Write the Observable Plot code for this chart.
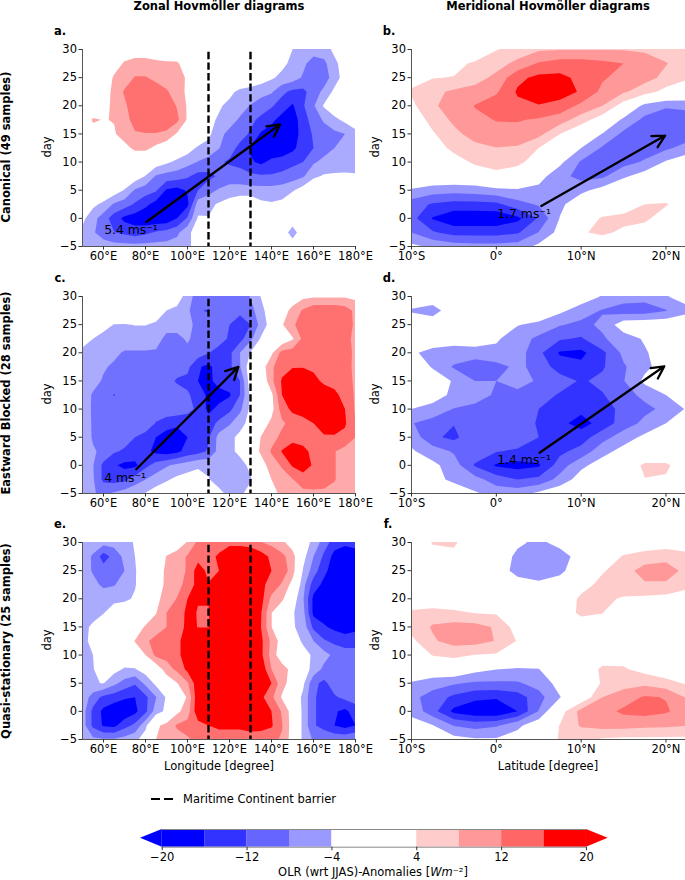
<!DOCTYPE html>
<html>
<head>
<meta charset="utf-8">
<script src="https://cdn.jsdelivr.net/npm/d3@7"></script>
<script src="https://cdn.jsdelivr.net/npm/@observablehq/plot@0.6"></script>
<style>
html,body{margin:0;padding:0;background:#fff}
#page{position:relative;width:685px;height:880px;overflow:hidden;font-family:"DejaVu Sans",sans-serif;color:#000}
#page svg{position:absolute}
.t{position:absolute;white-space:nowrap;line-height:1;font-size:11.6px}
.b{font-weight:bold}
.rot{transform:translate(-50%,-50%) rotate(-90deg)}
.ctr{transform:translate(-50%,-50%)}
</style>
</head>
<body>
<div id="page"></div>
<script>
// Grid axes
const lons = d3.range(50, 181, 5);
const lats = d3.range(-10, 23, 2.5);
const days = [30,27.5,25,22.5,20,17.5,15,12.5,10,7.5,5,2.5,0,-2.5,-5];

// OLR anomalies (rows = days, columns = lons / lats)
const panelA = [
[0,0,0,0,1.5,2.5,2.5,2.5,1.5,1,0,0,0,0,0,0,0,0,0,-1,-4,-6,-6,-6,-3,0,0],
[0,0,0,2,4.5,5,5,4.5,4.5,4.5,2,0,0,0,0,0,0,0,-1,-3,-5,-7,-10,-9,-5,-2,0],
[0,0,1,4.5,6,8.3,8.3,7,6,5.5,3.5,0,0,0,0,0,-1,-2,-3.5,-5,-6,-8.5,-10,-10,-6,-2,0],
[0,0,2,5,8.5,10,10,10,8.5,6,3.2,0,0,0,-3,-5,-5.5,-6.5,-7.5,-11,-13,-13,-10,-7,-3,0,0],
[0,0,2.5,5,7.2,10.5,11,11,10.5,7.7,3.5,0,0,-3.5,-5,-6.5,-8.2,-10,-11.5,-14,-16.5,-12.5,-8.5,-3.5,-1,0,0],
[0,4.6,3.8,4.2,6.5,9.5,11,11,11,9,3.5,0,-3,-4.5,-6.5,-8.5,-11,-13,-15,-17.5,-18,-14,-10,-7.5,-5,-3,-2],
[0,2,2,3.5,6,7.6,7.8,7.8,7,3.5,1,0,-3,-7,-9,-10.5,-12.5,-16.5,-18,-18,-18,-14.5,-11.5,-10,-9,-8,-5],
[0,0,0,2,2.5,5,5,3,1,0,-2,-4.7,-5.5,-7.8,-10.5,-13,-16.5,-18,-19,-19,-17,-14,-12,-9.5,-8,-6.5,-5.5],
[0,0,0,0,0,0,0,-1.5,-3.2,-5,-6.5,-8.2,-9.5,-11.5,-12.5,-13.5,-15.5,-16.8,-15,-14,-13,-12,-8.5,-7,-6.5,-6,-6],
[0,0,0,0,0,-1.5,-4.2,-8.5,-9.5,-10,-11.5,-13.5,-13,-11.5,-10,-10,-11,-11.5,-11.5,-11,-10,-8.5,-4.8,-3.5,-3.3,-3.3,-3.5],
[0,0,0,-1.5,-4.3,-8.5,-10,-11.5,-16.5,-17.5,-15.5,-12,-9.5,-7.5,-6.5,-6.5,-6.5,-6.5,-6.5,-6,-4.5,-2,0,0,0,0,0],
[0,-3,-5,-8.5,-10,-12.5,-15,-17.5,-18.5,-18,-17,-6,-5,-3.5,-2,0,0,-3,-3.5,-3,0,0,0,0,0,0,0],
[-3,-6.5,-10,-14,-17,-18,-19,-19,-19,-16,-11.5,-3.5,-3.8,-2,-1,0,0,0,0,0,-2,0,0,0,0,0,0],
[-5,-7.5,-10,-11.8,-13,-14,-13,-11.5,-10.5,-9,-5,-2,0,0,0,0,0,0,0,-2,-5.5,-2,0,0,0,0,0],
[-5,-5.5,-6,-6.5,-6.5,-6.5,-6.5,-6.5,-6.5,-6,-5,-2,0,0,0,0,0,0,0,0,-2,0,0,0,0,0,0]
];
const panelB = [
[0,0,0,0,3.8,6,7.5,7.8,7.8,7.8,7.8,7.5,6.5,6],
[0,1.5,2.5,4.8,6.5,9,12.5,13.8,13.8,13,12,9.7,8.2,6],
[2.5,3.8,4.2,6.5,9,15,17,17,15,12.5,10.5,9.3,7,4.5],
[4.5,7,8.7,9.5,11.5,16.5,18,18,15.5,11,8.5,6,2.5,1],
[3,7.5,9.5,12.2,14,15,15.8,14.5,11,8,2,-5.5,-7.5,-7],
[1,5.5,8.8,11,12.2,12.3,11.5,10,6,1.5,-5,-9,-10.5,-10],
[-1,3.5,7,9.5,10.5,10.5,9.2,4,0,-4.2,-9,-10.5,-11,-10],
[-3,1,5.5,7,7.9,7.5,4,0,-4,-8.5,-10,-10,-8.7,-6.5],
[-1,0,1.5,5,6,5,2,-3,-8.5,-10,-9.5,-7.5,-3.5,-1],
[0,0,0,0,2.5,1.5,-2.5,-6.5,-9.5,-8.8,-4.7,-2,0,0],
[-4.5,-6,-6.5,-6,-5,-4.5,-5,-6.5,-5,-2.5,0,0,0,0],
[-10,-12.5,-13.5,-13.5,-13,-9.5,-7.5,-5,-1,0,1,4,4.4,1.5],
[-10.5,-16.3,-19,-19,-19,-17,-11.5,-3.8,1,4.5,5.5,5,1.5,0],
[-8,-11.5,-13.5,-13.5,-13.5,-12.5,-7.8,-2.5,3.5,5,3,1.5,0,0],
[-3,-4.8,-6,-6.5,-6.5,-6,-3,0,0,0,0,0,0,0]
];
const panelC = [
[0,0,0,0,0,0,0,0,0,-1,-6.5,-9.5,-10,-10,-10,-10,-7.8,-3.8,0,0,1,3,3.5,3.5,3.5,3.5,3],
[0,0,0,0,0,0,0,-2,-4,-5.5,-7,-11.8,-12.2,-10.5,-10.5,-11,-9.5,-5.5,-1,1.5,5.5,8.5,11,11,11,10,7],
[-1,-1.5,-3,-4.1,-4.2,-3.9,-3.9,-4.5,-6.5,-6.5,-6.5,-9.5,-11,-10.5,-12,-14,-12,-6.5,-2,3.6,7.5,9.5,11,11.5,11.5,11,7],
[-3.5,-4,-5,-5.5,-5.5,-5.5,-5.5,-6.5,-9,-9,-7.5,-9.5,-10,-10.5,-12.5,-13.5,-9,-3.5,0,0.5,3.5,9,10.5,11,11,10.5,6],
[-4.3,-4.5,-5.5,-7,-8.5,-8.5,-8.5,-8.5,-9,-9.5,-9,-10,-11.8,-13.5,-13,-8,-3.7,0,3.2,9.5,10,10.5,11,11,11,11,6.5],
[-5,-5.5,-7.5,-8.7,-9,-9,-9,-9.5,-10,-10,-11,-15.5,-17,-14,-13,-8.2,-1.5,1.5,7.3,10.5,11.8,11.8,11,10.5,10.5,10.5,6.5],
[-5,-6.5,-8.5,-9,-9,-9,-9,-9.5,-10.5,-12.5,-13,-16,-17,-14.5,-14,-12,-1.5,0,7,12.5,14.5,15,13.5,11,10.5,10.5,7],
[-5.5,-8.5,-9,-12.3,-9,-9,-9,-9,-9.5,-10,-11.5,-13.5,-17,-17.5,-16.5,-12,-3,0,3,12,15,16,15,15,13,10.5,7.5],
[-6,-8.5,-9,-9,-9,-9,-9,-9,-9.5,-9.5,-10.5,-13,-17,-15,-13,-9,-3,0,2.5,10,13,14,13.5,14.5,15,12,7.5],
[-5.5,-8.5,-9,-9,-9,-9,-9.5,-12.3,-14,-15,-15,-15,-14,-11,-8.5,-5.5,-2.5,1.5,5,7.3,9.5,10.5,12,14,14.5,12.5,8],
[-5,-8.5,-9,-9.5,-10.5,-12,-13.5,-16,-18,-18.5,-16,-14,-12.5,-6.5,-5,-3,-1,4.2,6.5,9,10,10.5,11,11.5,11.5,11,8],
[-5,-7.5,-9,-11.5,-12.5,-13.5,-15,-17,-18,-17,-14.5,-13.5,-11.5,-6.5,-5,-3,1,4.7,8.5,12.3,15,13,11,10,8.2,6.5,6],
[-5,-7.8,-13,-15.5,-17,-17,-13,-10.5,-8.5,-7,-6,-4.5,-4.8,-5.5,-5.5,-5.5,-3,2,6,8.5,12.5,14,11.5,10,8.2,6.5,6],
[-5,-7.5,-13,-13.5,-13,-10,-8,-6,-4.5,-3,-2,-2.5,-3.8,-5.5,-5.5,-5.5,-4.5,0,4,6,7.8,10,10.5,10,8.2,6.5,6],
[-5,-7.8,-8.5,-7.5,-6,-5,-3.8,-2,-1,0,0,0,-1,-3,-5,-5,-2,0,2.5,5,6.5,7,7,7,7,6.5,6]
];
const panelD = [
[0,-1,0,0,0,0,0,0,-1.5,-4.3,-6,-6.5,-4.2,-2.5],
[-4.6,-6,-1,0,0,0,-0.5,-3,-6,-8.3,-10,-10,-8.2,-5],
[0,-1,0,0,-1,-3.8,-5,-7.7,-9,-7.3,-1.5,-1,-1,-1],
[0,-2,-2.5,-2,-3.5,-6,-9,-11.5,-12.5,-8.5,-6,-3.5,-1,0],
[-3.5,-5,-5.5,-5.5,-5,-6,-11,-16.5,-17,-13,-7,-4.5,-1.5,0],
[0,-4.5,-8.5,-11,-9.5,-7,-9.5,-14,-15,-12.5,-8.5,-5,-2,0],
[0,-1,-4.5,-8,-8,-6.5,-8.5,-10,-12.5,-11,-8.2,-3,-1,0],
[-1,-2,-5,-6.5,-8.5,-9,-10,-12.5,-14,-12.3,-9.5,-7,-4,-1.5],
[-4,-5.5,-8.2,-9,-9.5,-10,-12,-13,-15,-13.5,-11,-9,-7,-3.5],
[-7.8,-9.5,-11.8,-9.5,-10,-10.5,-12.3,-15,-17.5,-14.5,-10,-7,-4,-1.5],
[-5.5,-11.2,-13,-9,-9.5,-10,-12,-13.5,-14,-9.5,-6,-3,0,0],
[-3.5,-6,-8.5,-9.5,-11.8,-12.5,-13.5,-13,-10.5,-5.5,-2.5,0,0,0],
[0,-3,-6,-12.5,-16.5,-17.5,-16.5,-10,-5,-2,1,4.8,4.8,1],
[0,-2.5,-5,-6.5,-10,-12,-11,-6.5,-2,0,3.5,3.9,3.5,0],
[0,0,-1,-3.5,-5.5,-5.5,-3,-1,0,0,0,0,0,0]
];
const panelE = [
[-5,-6,-6.5,-6.5,-6,-3.5,0,0,1,2,4.3,9,10,10.5,11,11,10.5,8.2,7,5.2,1.5,-2,-5,-10,-14,-15,-14.5],
[-6,-8.5,-14,-10.5,-7,-4,0,0,4.2,5.5,8.5,10.5,11,12.5,15,15,15,14,11,9,6,-2.5,-8,-12.8,-17.5,-19,-18],
[-5.5,-8.5,-10,-10,-8,-4.5,0,1,5,6,8.5,14,11,12,15,15,15,15,12,10.5,6,-4.3,-10,-15,-18,-19,-19],
[-5,-6.5,-9,-8.3,-6,-4.3,-1,1.5,5,6.5,9.5,13.5,12.2,14,15,15,15,13,10.5,7.5,2.5,-6.5,-14,-17,-19,-19,-19],
[-5,-5,-5,-5,-4.8,-3.5,-1,3,5.5,8.2,12,12.2,12.2,15,15,15,15,13.5,7,5,-1.5,-7.5,-17,-18,-19,-19,-19],
[-5,-5,-4.2,-2,-1,-0.5,0,3.8,8,9.5,13,11.8,11.8,15,15,15,15,12.3,4.1,0,-3.5,-6.5,-17,-18,-19,-19,-18],
[-4.8,-3.5,-1,0,0,1.5,4.5,6.5,8,10,13,11.9,11.9,15,15,15,15,12,4.1,-0.5,-3.5,-5.5,-13,-15.5,-17,-18,-17],
[-4.5,-3.5,-1,0,0,4.2,7.5,9,9.5,11,14,15,15,15,15,15,15,13,7,2,-1,-4.8,-8,-11.5,-13,-14,-14],
[-4.8,-4,-1,0,0,1,4,9,9.5,11,14,15,15,15,15,15,15,13,6.5,1,-1,-2,-4.8,-6.5,-9,-10,-10],
[-4.8,-4.2,-2,-2.5,-4.5,-4.3,-2,1,6,9,13,15,15,15,15,15,15,15,8,6,2.5,-1.5,-5.5,-9,-9.5,-9.5,-9.5],
[-4.5,-4.2,-3.9,-7,-9.5,-11.5,-7,-3,1,3.8,7.5,15,15,15,15,15,15,15,12,5.5,2,-3,-11,-13,-10,-9.5,-9.5],
[-5,-10,-13,-14,-15.5,-16,-13,-8.2,-3.5,0,4.5,15,15,15,15,15,15,13,9,3.5,0,-5,-11.5,-13.5,-12.5,-11,-10],
[-6,-13,-17,-19,-19,-17,-13,-6,-3,3,6,15,15,15,15,15,15,15,12,7.5,2,-5,-11.5,-13.5,-15.5,-17,-14],
[-6,-13,-16.5,-17,-13.5,-11,-5,3,5.5,8.5,9.5,10.5,12,13,13,13,14,14,12.5,8.3,2,-5,-11.5,-13.5,-16,-17.5,-16],
[-5,-7,-7.5,-7.5,-6.5,-5,-2,4,5.5,6.5,7.5,9,9.5,9.5,9.5,9.5,9.5,9,9,7.5,2,-5,-8.5,-9,-9,-9,-8]
];
const panelF = [
[0,4.3,4.6,1,0,-3.2,-5,-2.5,0,0,0,1,1.5,1],
[0,2.5,3,0.5,-1,-5,-6.5,-6,-2,0,4.5,6,7,5.5],
[0,0,0,0,-1.5,-5.5,-6.5,-5,-1,3.5,6.5,9.5,9.5,7],
[0,0,0,0,0,-2,-3,-2,2,5.5,6.5,7.5,7.5,5],
[0,0,0,0,0,0,0,0,5,5,3.5,3,2.5,2],
[5,6,5,3.8,3.5,2,0,1,5,4.1,1,1,0.5,0],
[5.5,8.4,9.5,9.5,7.5,2,0,0,1,1.5,0,0,0,0],
[3,7.5,9.5,9.5,7.8,3.7,0,0,0,0,0,0,0,0],
[1,4.2,5,3.9,3.5,2,0,0,0,1,2,1,0,0],
[0,0,0,-2.5,-3.9,-4.5,-4.1,-1,0,5,4.5,2.5,1,0],
[-4.5,-6.5,-7.5,-8.7,-8.7,-8.5,-6.5,-2.5,0,4.5,6.5,7,5.5,3.5],
[-7,-9.5,-13,-15,-15.5,-14,-9.5,-4.2,0.5,8,10,12.5,11.8,7.5],
[-5,-10.5,-17,-19,-19.5,-16,-7.8,2,9.5,10.5,12.8,13.5,12.5,10],
[-2.5,-3.8,-8.2,-9.5,-8.5,-5,-1,4.2,8.5,9.5,9.5,9,8.7,8.2],
[0,-1,-2.5,-3.5,-3.5,-2,0,4.5,4.8,3.5,3,3,3,3]
];

// Contour levels and colours
const levelsLeft = [-100,-16,-12,-8,-4,4,8,12];
const coloursLeft = ["#0000ff","#3939ff","#7171ff","#aaaaff","#ffffff","#ffaaaa","#ff7171","#ff0000"];
const levelsRight = [-100,-16,-12,-8,-4,4,8,12,16];
const coloursRight = ["#0000ff","#3333ff","#6666ff","#9999ff","#ffffff","#ffcccc","#ff9999","#ff6666","#ff0000"];

// Tick labels
const lonTicks = [60,80,100,120,140,160,180];
const latTicks = [-10,0,10,20];
const dayTicks = [-5,0,5,10,15,20,25,30];
const barrier = [110,130];

// Phase-speed arrows
const arrowA = [{x1:80.4,y1:-0.65,x2:144.1,y2:16.7,label:"5.4 ms⁻¹",lx:60.3,ly:-2.1}];
const arrowB = [{x1:5.3,y1:2.2,x2:19.9,y2:14.7,label:"1.7 ms⁻¹",lx:0.1,ly:0.8}];
const arrowC = [{x1:75.6,y1:-0.7,x2:124.2,y2:17.5,label:"4 ms⁻¹",lx:60.3,ly:-2.2}];
const arrowD = [{x1:5.1,y1:2.25,x2:19.8,y2:17.6,label:"1.4 ms⁻¹",lx:0.1,ly:0.9}];

// Colour bar
const barBounds = [-20,-16,-12,-8,-4,4,8,12,16,20];
const barColours = ["#0000ff","#3333ff","#6666ff","#9999ff","#ffffff","#ffcccc","#ff9999","#ff6666","#ff0000"];
const barTicks = [-20,-12,-4,4,12,20];

const page = document.getElementById("page");
const FONT = "'DejaVu Sans', sans-serif";
const FS = 11.5;
const minus = d => d < 0 ? "\u2212" + (-d) : String(d);
const lonFmt = d => d + "°E";
const latFmt = d => d === 0 ? "0°" : d < 0 ? (-d) + "°S" : d + "°N";

function text(cls, s, x, y, size, html) {
  const el = document.createElement("div");
  el.className = "t " + cls;
  if (html) el.innerHTML = s; else el.textContent = s;
  el.style.left = x + "px";
  el.style.top = y + "px";
  if (size) el.style.fontSize = size + "px";
  page.appendChild(el);
}

function panel({grid, top, left: isLeft, arrow}) {
  const xs = isLeft ? lons : lats;
  const step = xs[1] - xs[0];
  const svgTop = top - 8;
  const plotH = 197;
  const marks = [
    Plot.contour(grid.flat(), {
      width: xs.length, height: days.length,
      x1: xs[0] - step / 2, x2: xs[xs.length - 1] + step / 2,
      y1: 31.25, y2: -6.25,
      fill: Plot.identity,
      thresholds: isLeft ? levelsLeft : levelsRight,
      clip: true
    }),
    Plot.ruleX([isLeft ? 50 : -10], {stroke: "#555", strokeWidth: 1}),
    Plot.ruleY([-5], {stroke: "#555", strokeWidth: 1}),
    Plot.axisX({ticks: isLeft ? lonTicks : latTicks, tickFormat: isLeft ? lonFmt : latFmt, tickSize: 3.5, tickPadding: 2, label: null, fontSize: FS, stroke: "#333"}),
    Plot.axisY({ticks: dayTicks, tickFormat: minus, tickSize: 3.5, tickPadding: 2, label: null, fontSize: FS, stroke: "#333"})
  ];
  if (isLeft) marks.push(Plot.ruleX(barrier, {y1: 29.5, y2: -5, stroke: "black", strokeWidth: 2.4, strokeDasharray: "7.4,3.2"}));
  if (arrow) {
    marks.push(Plot.arrow(arrow, {x1: "x1", y1: "y1", x2: "x2", y2: "y2", stroke: "black", strokeWidth: 2.3, headLength: 9, headAngle: 55}));
    marks.push(Plot.text(arrow, {x: "lx", y: "ly", text: "label", textAnchor: "start", fontSize: 12.4, fill: "black"}));
  }
  const svg = Plot.plot({
    width: isLeft ? 380 : 320,
    height: plotH + 8 + 32,
    marginTop: 8, marginBottom: 32,
    marginLeft: isLeft ? 82 : 46,
    marginRight: isLeft ? 25 : 0,
    x: {domain: isLeft ? [50, 180] : [-10, 22.3]},
    y: {domain: [-5, 30]},
    color: isLeft
      ? {type: "threshold", domain: levelsLeft.slice(1), range: coloursLeft}
      : {type: "threshold", domain: levelsRight.slice(1), range: coloursRight},
    style: {background: "transparent", overflow: "visible", fontFamily: FONT, fontSize: FS + "px", color: "#000"},
    marks
  });
  svg.style.left = (isLeft ? 0 : 365) + "px";
  svg.style.top = svgTop + "px";
  page.appendChild(svg);
  text("rot", "day", isLeft ? 48 : 376, top + 98, FS);
}

panel({grid: panelA, top: 49, left: true, arrow: arrowA});
panel({grid: panelB, top: 49, left: false, arrow: arrowB});
panel({grid: panelC, top: 296, left: true, arrow: arrowC});
panel({grid: panelD, top: 296, left: false, arrow: arrowD});
panel({grid: panelE, top: 542, left: true});
panel({grid: panelF, top: 542, left: false});

// Titles and labels
text("b ctr", "Zonal Hovmöller diagrams", 219, 6.5, FS);
text("b ctr", "Meridional Hovmöller diagrams", 548, 6.5, FS);
text("b rot", "Canonical (49 samples)", 6.8, 147, FS);
text("b rot", "Eastward Blocked (28 samples)", 6.8, 393, FS);
text("b rot", "Quasi-stationary (25 samples)", 6.8, 641, FS);
text("b ctr", "a.", 60, 32, FS);
text("b ctr", "b.", 389, 32, FS);
text("b ctr", "c.", 60, 279, FS);
text("b ctr", "d.", 389, 279, FS);
text("b ctr", "e.", 60, 525, FS);
text("b ctr", "f.", 388, 525, FS);
text("ctr", "Longitude [degree]", 219, 767, FS);
text("ctr", "Latitude [degree]", 548, 767, FS);

// Legend
for (const l of [150.7, 164.3]) {
  const d = document.createElement("div");
  d.style.cssText = `position:absolute;left:${l}px;top:798.3px;width:9px;height:2px;background:#000`;
  page.appendChild(d);
}
text("", "Maritime Continent barrier", 183, 793.5, FS);

// Colour bar
const bands = barColours.map((c, i) => ({lo: barBounds[i], hi: barBounds[i + 1], c}));
const tipL = [{x: -22.05, a: 0.5, b: 0.5}, {x: -20, a: 0, b: 1}];
const tipR = [{x: 20, a: 0, b: 1}, {x: 22.05, a: 0.5, b: 0.5}];
const bar = Plot.plot({
  width: 685, height: 60,
  marginTop: 14, marginBottom: 28.3, marginLeft: 140, marginRight: 77.3,
  x: {domain: [-22.05, 22.05]},
  y: {domain: [0, 1], axis: null},
  style: {background: "transparent", overflow: "visible", fontFamily: FONT, fontSize: FS + "px", color: "#000"},
  marks: [
    Plot.rect(bands, {x1: "lo", x2: "hi", y1: 0, y2: 1, fill: "c"}),
    Plot.areaY(tipL, {x: "x", y1: "a", y2: "b", fill: "#0000ff"}),
    Plot.areaY(tipR, {x: "x", y1: "a", y2: "b", fill: "#ff0000"}),
    Plot.ruleY([0, 1], {x1: -20, x2: 20, stroke: "#888", strokeWidth: 1}),
    Plot.axisX({ticks: barTicks, tickFormat: minus, tickSize: 3.5, tickPadding: 2.5, label: null, fontSize: FS, stroke: "#333"})
  ]
});
bar.style.left = "0px";
bar.style.top = "815px";
page.appendChild(bar);
text("ctr", "OLR (wrt JJAS)-Anomalies [<i>Wm</i>⁻²]", 373, 873, FS, true);
</script>
</body>
</html>
